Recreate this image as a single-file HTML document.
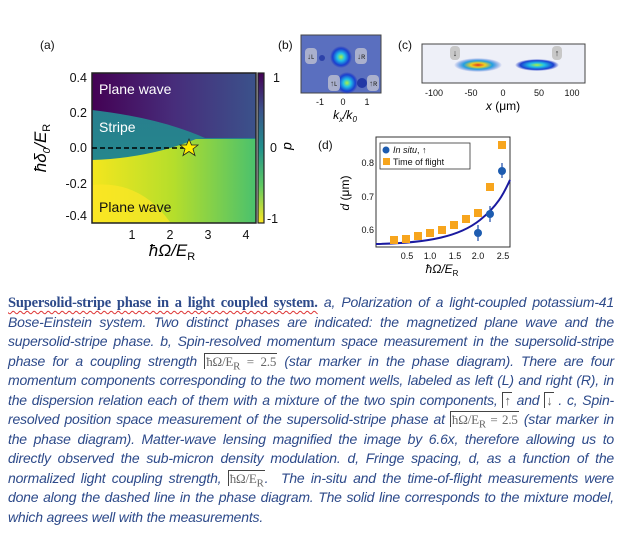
<!DOCTYPE html>
<html><head><meta charset="utf-8"><style>
body{margin:0;background:#fff;width:621px;height:534px;overflow:hidden;position:relative;font-family:"Liberation Sans",sans-serif}
svg{position:absolute;left:0;top:0}
.cap{position:absolute;left:8px;width:606px;font-family:"Liberation Sans",sans-serif;font-style:italic;font-size:14px;color:#2d4a8a;text-align:justify;text-align-last:justify;white-space:nowrap;letter-spacing:-0.2px}
.cap.last{text-align-last:left}
b.t{font-family:"Liberation Serif",serif;font-style:normal;font-weight:bold;font-size:14.5px;color:#2d4a8a;text-decoration:underline wavy #d33 1px;text-underline-offset:3px;letter-spacing:-0.2px}
.m{font-family:"Liberation Serif",serif;font-style:normal;color:#666;border-left:1px solid #444;border-top:1px solid #444;padding:0 1px;font-size:13px}
</style></head><body>
<svg width="621" height="290" viewBox="0 0 621 290">
<defs>
<linearGradient id="top" x1="0" x2="1"><stop offset="0" stop-color="#440154"/><stop offset="0.5" stop-color="#472d7b"/><stop offset="1" stop-color="#3b528b"/></linearGradient>
<linearGradient id="mid" x1="0" y1="0" x2="0" y2="1"><stop offset="0" stop-color="#2a788e"/><stop offset="1" stop-color="#21918c"/></linearGradient>
<linearGradient id="bot" x1="0" y1="0" x2="1" y2="0"><stop offset="0" stop-color="#f4e61e"/><stop offset="0.5" stop-color="#b5de2b"/><stop offset="1" stop-color="#4ac16d"/></linearGradient>
<linearGradient id="cb" x1="0" y1="0" x2="0" y2="1"><stop offset="0" stop-color="#440154"/><stop offset="0.25" stop-color="#3b528b"/><stop offset="0.5" stop-color="#21918c"/><stop offset="0.75" stop-color="#5ec962"/><stop offset="1" stop-color="#fde725"/></linearGradient>
<radialGradient id="blob"><stop offset="0" stop-color="#b0f040"/><stop offset="0.35" stop-color="#20c0e8"/><stop offset="0.75" stop-color="#1a40d0"/><stop offset="1" stop-color="#1a30c0" stop-opacity="0"/></radialGradient>
<radialGradient id="blob2"><stop offset="0" stop-color="#e03020"/><stop offset="0.3" stop-color="#f0d020"/><stop offset="0.6" stop-color="#20a0e0"/><stop offset="1" stop-color="#3050d0" stop-opacity="0"/></radialGradient>
</defs>
<g font-size="12" fill="#111">
<text x="40" y="49">(a)</text><text x="278" y="49">(b)</text><text x="398" y="49">(c)</text><text x="318" y="149">(d)</text>
</g>
<rect x="92" y="73" width="164" height="150" fill="url(#mid)"/>
<path d="M92,73 H256 V138 H205 Q160,118 92,110 Z" fill="url(#top)"/>
<path d="M92,160 Q150,158 196,139 H256 V223 H92 Z" fill="url(#bot)"/>
<path d="M92,185 Q140,180 170,222 H92 Z" fill="#fde725" opacity="0.7"/>
<rect x="92" y="73" width="164" height="150" fill="none" stroke="#222" stroke-width="1.5"/>
<line x1="92" y1="148" x2="186" y2="148" stroke="#000" stroke-width="1.5" stroke-dasharray="5,3"/>
<polygon points="189,139 191.5,145 198,145 193,149 195,155.5 189,151.5 183,155.5 185,149 180,145 186.5,145" fill="#ffee00" stroke="#222" stroke-width="0.8"/>
<rect x="258" y="73" width="6" height="150" fill="url(#cb)" stroke="#222" stroke-width="1.2"/>
<g font-size="14" fill="#fff"><text x="99" y="94">Plane wave</text><text x="99" y="132">Stripe</text></g>
<text x="99" y="212" font-size="14" fill="#111">Plane wave</text>
<g font-size="12.5" fill="#111" text-anchor="end">
<text x="87" y="82">0.4</text><text x="87" y="117">0.2</text><text x="87" y="152">0.0</text><text x="87" y="188">-0.2</text><text x="87" y="220">-0.4</text></g>
<g font-size="12.5" fill="#111" text-anchor="middle">
<text x="132" y="239">1</text><text x="170" y="239">2</text><text x="208" y="239">3</text><text x="246" y="239">4</text></g>
<g font-size="12.5" fill="#111"><text x="273" y="82">1</text><text x="270" y="152">0</text><text x="267" y="223">-1</text></g>
<text transform="translate(284,146) rotate(90)" font-size="14" font-style="italic" text-anchor="middle">d</text>
<text x="172" y="256" font-size="17" font-style="italic" text-anchor="middle">ħΩ/E<tspan font-size="11" font-style="normal" dy="4">R</tspan></text>
<text transform="translate(46,148) rotate(-90)" font-size="17" font-style="italic" text-anchor="middle">ħδ<tspan font-size="10" dy="4">0</tspan><tspan dy="-4">/E</tspan><tspan font-size="11" font-style="normal" dy="4">R</tspan></text>
<rect x="301" y="35" width="80" height="58" fill="#5a6fbf" stroke="#444"/>
<circle cx="341" cy="57" r="11" fill="url(#blob)"/>
<circle cx="347" cy="83" r="11" fill="url(#blob)"/>
<circle cx="362" cy="83" r="5" fill="#1a2fa0" opacity="0.85"/>
<circle cx="322" cy="58" r="3" fill="#1a2fa0" opacity="0.7"/>
<g fill="#b8bcd0" opacity="0.85"><rect x="305" y="48" width="12" height="16" rx="4"/><rect x="355" y="48" width="12" height="16" rx="4"/><rect x="328" y="75" width="12" height="16" rx="4"/><rect x="367" y="75" width="12" height="16" rx="4"/></g>
<g font-size="8" fill="#333"><text x="307" y="59">↓ʟ</text><text x="357" y="59">↓ʀ</text><text x="330" y="86">↑ʟ</text><text x="369" y="86">↑ʀ</text></g>
<g font-size="9" fill="#111" text-anchor="middle"><text x="320" y="105">-1</text><text x="343" y="105">0</text><text x="367" y="105">1</text></g>
<text x="345" y="119" font-size="12" font-style="italic" text-anchor="middle">k<tspan font-size="8" dy="3">x</tspan><tspan dy="-3">/k</tspan><tspan font-size="8" dy="3">0</tspan></text>
<rect x="422" y="44" width="163" height="39" fill="#eef0f8" stroke="#444"/>
<ellipse cx="478" cy="65" rx="24" ry="7" fill="url(#blob2)"/>
<ellipse cx="537" cy="65" rx="22" ry="6" fill="url(#blob)"/>
<g fill="#c8c8c8"><rect x="450" y="46" width="10" height="14" rx="4"/><rect x="552" y="46" width="10" height="14" rx="4"/></g>
<g font-size="9" fill="#333" text-anchor="middle"><text x="455" y="56">↓</text><text x="557" y="56">↑</text></g>
<g font-size="9" fill="#111" text-anchor="middle"><text x="434" y="96">-100</text><text x="471" y="96">-50</text><text x="503" y="96">0</text><text x="539" y="96">50</text><text x="572" y="96">100</text></g>
<text x="503" y="110" font-size="12" text-anchor="middle"><tspan font-style="italic">x</tspan> (μm)</text>
<rect x="376" y="137" width="134" height="110" fill="#fff" stroke="#333"/>
<path d="M376,244 C430,243 460,236 480,220 S505,190 510,180" fill="none" stroke="#1a1aa0" stroke-width="2"/>
<g fill="#f7a51d">
<rect x="390" y="236" width="8" height="8"/><rect x="402" y="235" width="8" height="8"/><rect x="414" y="232" width="8" height="8"/><rect x="426" y="229" width="8" height="8"/><rect x="438" y="226" width="8" height="8"/><rect x="450" y="221" width="8" height="8"/><rect x="462" y="215" width="8" height="8"/><rect x="474" y="209" width="8" height="8"/><rect x="486" y="183" width="8" height="8"/><rect x="498" y="141" width="8" height="8"/></g>
<g stroke="#1a4aa8" stroke-width="1.2"><line x1="478" y1="225" x2="478" y2="241"/><line x1="490" y1="206" x2="490" y2="222"/><line x1="502" y1="163" x2="502" y2="178"/></g>
<g fill="#1d5cb0"><circle cx="478" cy="233" r="4"/><circle cx="490" cy="214" r="4"/><circle cx="502" cy="171" r="4"/></g>
<rect x="380" y="143" width="90" height="26" fill="#fff" stroke="#333" stroke-width="0.8"/>
<circle cx="386" cy="150" r="3.5" fill="#1d5cb0"/><rect x="383" y="158" width="7" height="7" fill="#f7a51d"/>
<g font-size="9" fill="#111"><text x="393" y="153"><tspan font-style="italic">In situ</tspan>, ↑</text><text x="393" y="165">Time of flight</text></g>
<g font-size="9" fill="#111" text-anchor="end"><text x="374" y="166">0.8</text><text x="374" y="200">0.7</text><text x="374" y="233">0.6</text></g>
<g font-size="9" fill="#111" text-anchor="middle"><text x="407" y="259">0.5</text><text x="430" y="259">1.0</text><text x="455" y="259">1.5</text><text x="478" y="259">2.0</text><text x="503" y="259">2.5</text></g>
<text x="442" y="273" font-size="12" font-style="italic" text-anchor="middle">ħΩ/E<tspan font-size="8" font-style="normal" dy="3">R</tspan></text>
<text transform="translate(349,193) rotate(-90)" font-size="12" text-anchor="middle"><tspan font-style="italic">d</tspan> (μm)</text>
</svg>
<div class="cap" style="top:294px"><b class="t">Supersolid-stripe phase in a light coupled system.</b> a, Polarization of a light-coupled potassium-41</div>
<div class="cap" style="top:314px">Bose-Einstein system. Two distinct phases are indicated: the magnetized plane wave and the</div>
<div class="cap" style="top:333px">supersolid-stripe phase. b, Spin-resolved momentum space measurement in the supersolid-stripe</div>
<div class="cap" style="top:353px">phase for a coupling strength <span class="m">ħΩ/E<sub>R</sub> = 2.5</span> (star marker in the phase diagram). There are four</div>
<div class="cap" style="top:372px">momentum components corresponding to the two moment wells, labeled as left (L) and right (R), in</div>
<div class="cap" style="top:392px">the dispersion relation each of them with a mixture of the two spin components, <span class="m">↑</span> and <span class="m">↓</span> . c, Spin-</div>
<div class="cap" style="top:411px">resolved position space measurement of the supersolid-stripe phase at <span class="m">ħΩ/E<sub>R</sub> = 2.5</span> (star marker in</div>
<div class="cap" style="top:431px">the phase diagram). Matter-wave lensing magnified the image by 6.6x, therefore allowing us to</div>
<div class="cap" style="top:450px">directly observed the sub-micron density modulation. d, Fringe spacing, d, as a function of the</div>
<div class="cap" style="top:470px">normalized light coupling strength, <span class="m">ħΩ/E<sub>R</sub></span>.&nbsp; The in-situ and the time-of-flight measurements were</div>
<div class="cap" style="top:489px">done along the dashed line in the phase diagram. The solid line corresponds to the mixture model,</div>
<div class="cap last" style="top:509px">which agrees well with the measurements.</div>
</body></html>
